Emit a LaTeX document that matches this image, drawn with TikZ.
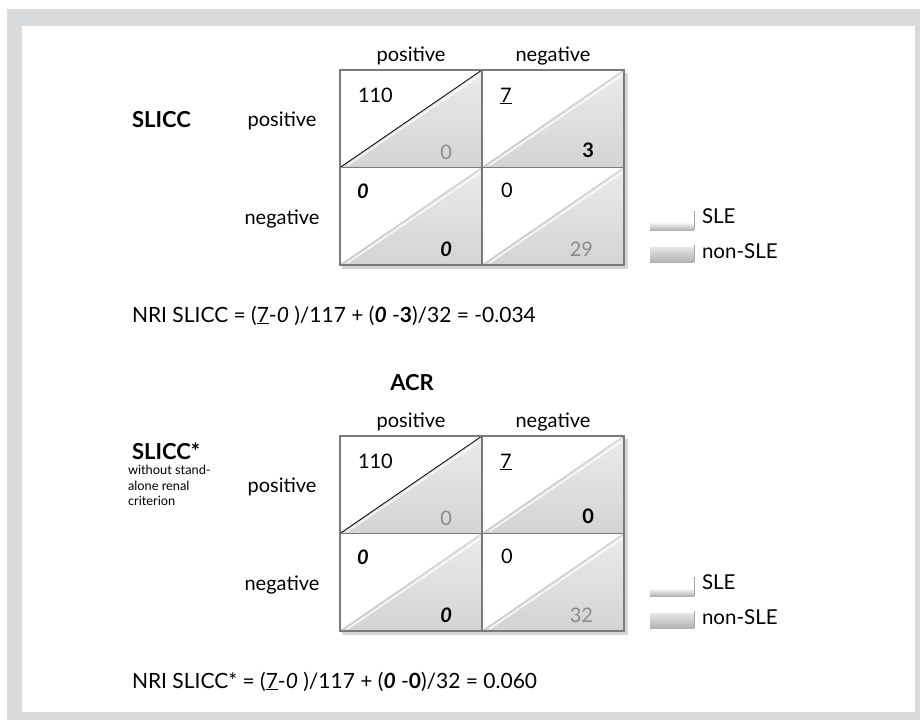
\documentclass[tikz,border=0pt]{standalone}
\usepackage{fontspec}
\setmainfont{Lato}
\definecolor{framegray}{HTML}{DADBDD}
\definecolor{numgray}{HTML}{8C8C8C}
\definecolor{bordergray}{HTML}{7A7A7A}
\newcommand\nricell[4]{% #1 name, #2 x, #3 y, #4 diagonal colour
  \path (#2,#3) coordinate (#1-tl) (#2+142,#3+97.5) coordinate (#1-br)
        (#2,#3+97.5) coordinate (#1-bl) (#2+142,#3) coordinate (#1-tr);
  \fill[white] (#1-tl) rectangle (#1-br);
  \shade[top color=gray!16, bottom color=gray!34] (#1-bl) -- (#1-tr) -- (#1-br) -- cycle;
  \draw[white, line width=1.4pt, opacity=.85] ([shift={(7,-1.8)}]#1-bl) -- ([shift={(-1.8,5)}]#1-tr);
  \draw[#4, line width=.8pt] (#1-bl) -- (#1-tr);
  \draw[cellborder] (#1-tl) rectangle (#1-br);
}
\newcommand\nrimatrix[2]{% #1 prefix, #2 y of top
  \fill[black, opacity=.16] (342,#2+3) rectangle (628,#2+199);
  \nricell{#1a}{340}{#2}{black}
  \nricell{#1b}{482}{#2}{gray!45}
  \nricell{#1c}{340}{#2+97.5}{gray!45}
  \nricell{#1d}{482}{#2+97.5}{gray!45}
}
\begin{document}
\begin{tikzpicture}[x=1pt, y=-1pt,
  every node/.style={inner sep=0pt, outer sep=0pt},
  txt/.style={font=\fontsize{20}{23}\selectfont},
  leg/.style={font=\fontsize{20.5}{23}\selectfont, anchor=base west},
  ttl/.style={font=\fontsize{22}{25}\selectfont\bfseries},
  small/.style={font=\fontsize{12.8}{15.6}\selectfont, align=left},
  formula/.style={font=\fontsize{21}{24}\selectfont},
  lo/.style={font=\fontsize{20}{23}\selectfont, anchor=base east},
  hi/.style={font=\fontsize{20}{23}\selectfont, anchor=base west},
  graynum/.style={text=numgray},
  cellborder/.style={draw=bordergray, line width=1.8pt}]
\useasboundingbox (0,0) rectangle (920,720);
\fill[white] (0,0) rectangle (920,720);
\fill[framegray] (7,9) rectangle (920,720);
\fill[white] (22,26) rectangle (915,712);

% ---------- first matrix ----------
\nrimatrix{A}{70}
\node[txt, anchor=base] (A-colpos) at (411,61) {positive};
\node[txt, anchor=base] (A-colneg) at (553,61) {negative};
\node[ttl, anchor=base west] (A-title) at (132,127) {SLICC};
\node[txt, anchor=base] (A-rowpos) at (282,126) {positive};
\node[txt, anchor=base] (A-rowneg) at (282,224) {negative};
\node[hi] (A-a-hi) at (358,102) {110};
\node[lo, graynum] (A-a-lo) at (452,159) {0};
\node[hi] (A-b-hi) at (500,102) {\underline{7}};
\node[lo] (A-b-lo) at (594,157) {\bfseries 3};
\node[hi] (A-c-hi) at (357,198) {\bfseries\itshape 0};
\node[lo] (A-c-lo) at (452,256) {\bfseries\itshape 0};
\node[hi] (A-d-hi) at (501,197) {0};
\node[lo, graynum] (A-d-lo) at (593,256) {29};
% legend
\shade[top color=white, bottom color=gray!60, middle color=white] (650,214) rectangle (694,230);
\draw[gray!70, line width=.6pt] (694,211) -- (694,230);
\node[leg] (A-sle) at (702,223) {SLE};
\shade[top color=gray!20, bottom color=gray!60] (650,247) rectangle (694,262);
\draw[gray!70, line width=.6pt] (694,245) -- (694,262);
\node[leg] (A-nonsle) at (702,258) {non-SLE};
\node[formula, anchor=base west] (A-nri) at (132,322)
  {NRI SLICC = (\underline{7}-{\itshape 0} )/117 + ({\bfseries\itshape 0} -{\bfseries 3})/32 = -0.034};

% ---------- second matrix ----------
\node[ttl, anchor=base] (B-acr) at (412,390) {ACR};
\nrimatrix{B}{436}
\node[txt, anchor=base] (B-colpos) at (411,427) {positive};
\node[txt, anchor=base] (B-colneg) at (553,427) {negative};
\node[ttl, anchor=base west] (B-title) at (132,459) {SLICC*};
\node[small, anchor=north west] (B-note) at (128,465) {without stand-\\alone renal\\criterion};
\node[txt, anchor=base] (B-rowpos) at (282,492) {positive};
\node[txt, anchor=base] (B-rowneg) at (282,590) {negative};
\node[hi] (B-a-hi) at (358,468) {110};
\node[lo, graynum] (B-a-lo) at (452,525) {0};
\node[hi] (B-b-hi) at (500,468) {\underline{7}};
\node[lo] (B-b-lo) at (594,523) {\bfseries 0};
\node[hi] (B-c-hi) at (357,564) {\bfseries\itshape 0};
\node[lo] (B-c-lo) at (452,622) {\bfseries\itshape 0};
\node[hi] (B-d-hi) at (501,563) {0};
\node[lo, graynum] (B-d-lo) at (593,622) {32};
% legend
\shade[top color=white, bottom color=gray!60, middle color=white] (650,580) rectangle (694,596);
\draw[gray!70, line width=.6pt] (694,577) -- (694,596);
\node[leg] (B-sle) at (702,589) {SLE};
\shade[top color=gray!20, bottom color=gray!60] (650,613) rectangle (694,628);
\draw[gray!70, line width=.6pt] (694,611) -- (694,628);
\node[leg] (B-nonsle) at (702,624) {non-SLE};
\node[formula, anchor=base west] (B-nri) at (132,688)
  {NRI SLICC* = (\underline{7}-{\itshape 0} )/117 + ({\bfseries\itshape 0} -{\bfseries 0})/32 = 0.060};
\end{tikzpicture}
\end{document}
